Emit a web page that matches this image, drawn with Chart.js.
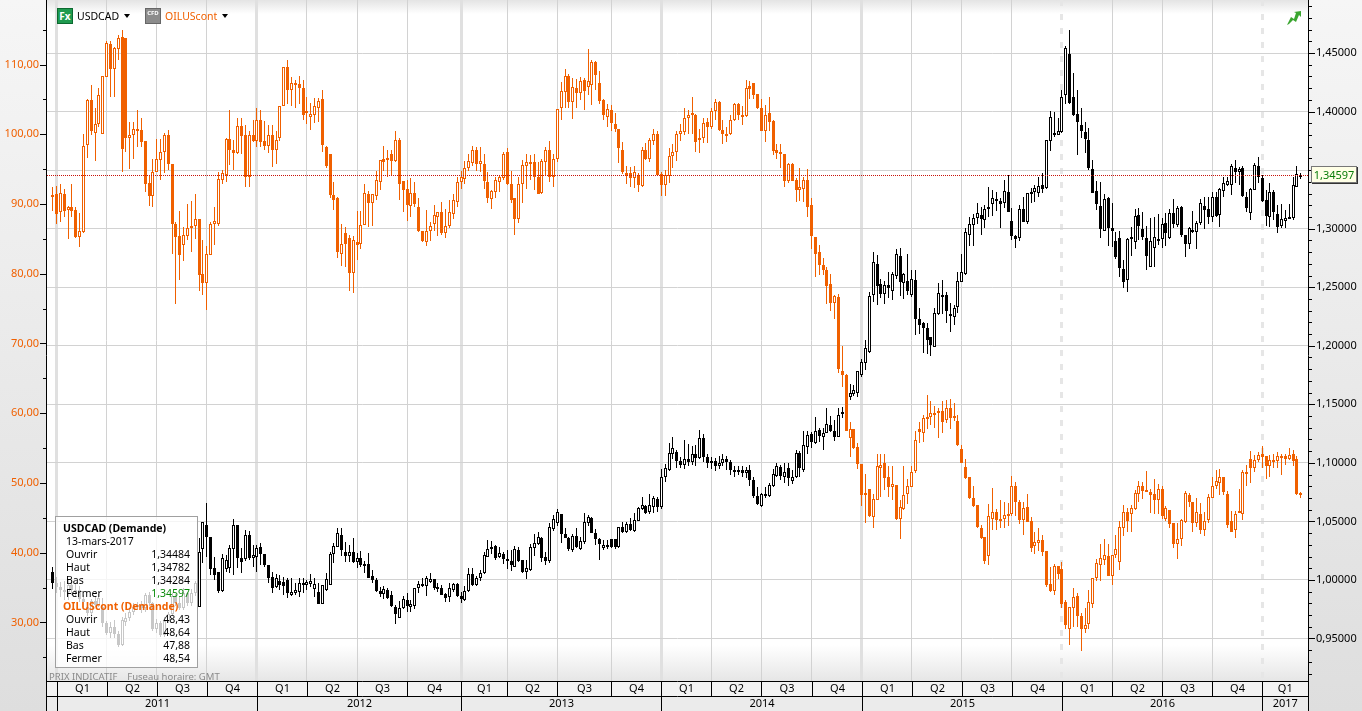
<!DOCTYPE html>
<html>
<head>
<meta charset="utf-8">
<title>USDCAD / OILUScont</title>
<script src="https://cdn.jsdelivr.net/npm/chart.js@4"></script>
<style>
html, body { margin: 0; padding: 0; background: #fff; overflow: hidden; }
#wrap { position: relative; width: 1362px; height: 711px; font: 11px "Noto Sans", sans-serif; color: #000; }
#chart { position: absolute; left: 0; top: 0; }
.abs { position: absolute; white-space: nowrap; line-height: 13px; }
.ico { position: absolute; top: 8px; width: 16px; height: 16px; box-sizing: border-box; color: #fff; text-align: center; font-weight: bold; }
.tri { position: absolute; top: 14px; width: 0; height: 0; border-left: 3px solid transparent; border-right: 3px solid transparent; border-top: 4px solid #000; }
#info { position: absolute; left: 55px; top: 516px; width: 141px; height: 150px; border: 1px solid #a0a0a0; background: rgba(255,255,255,.78); font-size: 10.5px; }
#tag { position: absolute; left: 1311px; top: 166px; width: 44px; height: 15px; line-height: 15px; text-align: center; background: #ffffe6; border: 1px solid #777; box-shadow: 1px 1px 0 #333; color: #0a7d0a; }
</style>
</head>
<body>
<div id="wrap">
  <canvas id="chart" width="1362" height="711"></canvas>
  <div class="ico" style="left:57px;background:#1f9a4f;border:1px solid #0c6a30;font-size:10px;line-height:14px">Fx</div>
  <div class="abs" style="left:77px;top:10px;font-size:10.5px">USDCAD</div>
  <div class="tri" style="left:124px"></div>
  <div class="ico" style="left:145px;background:#8c8c8c;border:1px solid #666;font-size:6px;line-height:9px">CFD</div>
  <div class="abs" style="left:165px;top:10px;color:#f06000;font-size:10.5px">OILUScont</div>
  <div class="tri" style="left:222px"></div>
  <svg class="abs" style="left:1287px;top:11px" width="15" height="15" viewBox="0 0 15 15"><polygon points="0,14 4,6 7,8 9,2 7,1 14,0 14,6 12,4 9,11 6,9 2,13" fill="#3aa52f"/></svg>
  <div class="abs" style="left:49px;top:670px;font-size:9.5px;color:#8a8a8a">PRIX INDICATIF &nbsp;&nbsp;&nbsp;Fuseau horaire: GMT</div>
  <div id="info"></div>
  <div id="tag"></div>
</div>
<script>
var firstWeek = '2010-12-27';
var quarterStarts = ['2011-01-03','2011-04-04','2011-07-04','2011-10-03','2012-01-02','2012-04-02','2012-07-02','2012-10-01',
  '2013-01-07','2013-04-01','2013-07-01','2013-10-07','2014-01-06','2014-04-07','2014-07-07','2014-10-06',
  '2015-01-05','2015-04-06','2015-07-06','2015-10-05','2016-01-04','2016-04-04','2016-07-04','2016-10-03','2017-01-02'];
var quarterLabels = ['Q1','Q2','Q3','Q4','Q1','Q2','Q3','Q4','Q1','Q2','Q3','Q4','Q1','Q2','Q3','Q4','Q1','Q2','Q3','Q4','Q1','Q2','Q3','Q4','Q1'];
var yearLabels = ['2011','2012','2013','2014','2015','2016','2017'];

var oilOpen = [
91.0,91.4,88.9,91.5,89.2,89.5,89.1,85.2,86.0,98.4,
104.9,100.2,101.4,100.1,108.2,113,109.4,112.2,113.9,113.8,
99.4,99.9,100.7,100.6,99,93,91.2,94.6,96.3,97.5,
99.9,95.8,87.2,85.4,84.1,85.4,86.6,86.9,87.9,80,
78.7,82.7,87.2,87.2,93.5,94.2,99.3,97.8,97.3,101.2,
99.9,93.8,99.9,99.1,102,99,98.3,99.9,97.7,99.4,
104,109.6,106.4,107.4,107.2,106.7,103.2,102.5,102.8,103.8,
105,98.2,97.1,91.3,90.9,82.9,85.8,85.1,80.1,84.6,
84.2,87.05,91.5,90.1,91.2,93.2,96.4,96.6,97.2,96.2,
99.2,93.3,92.1,89.7,91.6,89.5,86.1,84.6,86.1,87.1,
88.2,88.8,85.9,86.9,88.6,90.3,93.2,93.6,95.1,95.9,
97.7,95.7,95.8,93.2,90.7,91.7,93.2,93.7,97.4,92.9,
90.9,87.9,92.9,95.4,96,96,93.8,91.6,96,97.8,
93.8,96.5,103.8,106,108.3,104.6,106.7,105.9,107.8,106.8,
107,110.3,107.4,104.9,102.5,103.5,101.5,100.7,97.8,94.5,
94.4,93.7,94.2,92.6,97.7,96.5,99.1,100.1,94.3,92.7,
94,96.9,97.4,100,100.3,102.3,103,102.7,99.5,99.5,
101.7,101,103.4,104.6,100.6,100,100.1,102,104.3,102.8,
102.6,106.9,107.4,105.8,103.7,100.4,103,101.9,97.7,97.5,
97.1,93.3,95.8,93.5,92,92.2,93.4,89.8,85.2,83.1,
81.2,80.6,78.5,75.8,76.6,66,65.5,56.4,57.8,55.1,
52.7,48.2,49.2,45.1,47.6,52.2,52.8,50.8,49.4,49.7,
44.8,46.2,48.4,49.4,51.7,57.7,57.2,59.2,59.4,60.1,
60.3,60.3,59,60.8,59.6,58.9,54.9,52.3,50.8,47.9,
46.8,43.6,42.2,39.5,44.9,45.8,44.9,44.9,45.3,45.5,
49.6,47.3,44.7,46.5,44.5,41,41.4,41.8,40.2,35.5,
34.5,38.1,37.6,32.9,29,32.1,33.8,30.9,29,29.8,
32.7,36.3,38.3,39,39.5,36.6,39.7,38.6,43.6,45.9,
45.5,46.2,48.4,49.6,49,48.7,48.4,47.6,49.2,44.9,
46.1,44.2,41.3,41.9,44.4,48.3,47.2,44.2,45.6,43.2,
44.7,47.9,49.6,50,50.9,48.4,44.5,43.3,45.9,45.6,
51.6,53.5,52.2,53.3,54.2,53.8,52.5,53.2,53.2,53.9,
53.9,53.5,54.1,53.4,48.43];
var oilHigh = [
92.5,92.6,92.8,92.2,89.7,92.8,89.6,88.7,100,105.1,
107,103.8,106.7,108.4,113.3,113.3,112.5,114.2,115,113.8,
101.8,101.8,103.5,102.4,99,94,96.4,99.3,99.3,100.2,
100.6,95.8,87.4,89,86.7,90,90.4,91.5,87.9,84.8,
84,87.4,89.5,94.6,94.9,99.4,103.5,99.2,102.4,102.4,
101.3,100.4,102,103.7,103.5,101.9,101.3,101.3,100.4,104,
109.7,110.6,108.2,107.8,108.3,107.8,105.4,104.5,105.2,105.2,
106.4,98.3,97.1,93.2,91,87.1,86.7,85.5,85.4,89,
89,92.9,91.8,91.5,94.7,96.3,98.3,97.7,97.7,100.5,
99.5,93.3,93.5,93.7,93.1,90.8,86.1,89.2,87.4,89.8,
88.9,90.3,89.3,90.5,91.5,93.9,94.7,96.2,97.1,98.3,
98.1,98.1,97.1,94.6,92,93.9,94.1,97.5,98,94.8,
90.9,93.9,96.3,97.1,97,97.1,96,96.4,98.2,99,
97.1,103.6,107.5,109.3,108.7,108.1,107.9,108.2,108,112.2,
110.7,110.5,109.1,105.1,104.4,104.2,103,100.7,98.9,95.4,
95.3,95.4,94.4,98.1,98.7,99.5,100.7,100.5,94.6,94.9,
98,98.6,100.4,101.5,103.8,103.5,105.3,102.9,100.8,102.4,
102.3,103.7,105,104.8,102.1,101,102.7,104.5,104.5,104,
107.8,107.7,107.4,105.8,105.1,104.2,105.3,102.1,98.6,98.6,
97.1,95.9,95.9,93.7,95.2,93.8,95,90.8,85.2,84.1,
82.2,81,79.9,77,77.1,69.6,65.6,58.8,57.8,55.7,
52.7,51.3,49.2,48.4,54.2,54.2,54.1,52.5,52.4,49.7,
47.5,52.5,50.6,52.5,57.4,58.8,59.7,62.6,61.7,61,
60.8,61.7,61.9,62.1,61.4,59.7,55.4,53.5,50.9,49.5,
46.8,44,42.2,47,49.3,46.3,47.5,47.3,47.1,51,
50.2,47.6,47.2,48.4,45.1,42.9,43.5,42.5,40.2,38,
38.4,38.1,38.6,33.2,32.2,34.9,34.2,31.4,32,34.7,
36.3,39.1,41.2,42,41.3,39.7,42.5,44.6,46.8,46.4,
46.8,49,50.3,50.2,51.7,49.2,50.6,49.9,49.5,46.7,
46.1,44.3,44.3,44.8,48.9,48.6,47.3,47.8,47.1,45.9,
48.4,50.9,51.8,52,50.9,48.8,46,46,49.2,51.9,
52.6,54.6,54,54.4,55.3,53.9,54,54.2,54.4,54.2,
54.2,55,54.7,53.8,48.64];
var oilLow = [
89,87.1,87.4,88.2,85,88.2,85.1,83.8,85.9,96.6,
99.9,96.1,101,100.1,108.2,105.3,105.3,110.6,94.6,97.5,
95,96.4,98.2,98.2,91.7,89.7,89.6,94.6,93.4,94.5,
94.9,82.9,75.6,79.1,81.8,84.9,83.1,85,77.5,77,
74.8,82.7,84.1,86.9,92.9,93.2,95.6,94.9,97.1,97.1,
92.5,92.5,98.9,98.2,98.2,97.7,97.3,95.3,95.8,99,
104,104.4,104,103.8,104.4,102,101.5,100.6,101.6,101.8,
97.5,95.1,90.8,89.1,82.3,81.1,81,77.5,77.3,82,
83.6,87,86.7,86.8,90.5,92,94.8,93.9,94,96,
90.5,88.8,87.6,88.2,89.5,86,84.6,84,84.7,86.1,
85.4,85.6,85.1,86.5,87.9,89.6,92.2,92.8,94.8,95.4,
94.8,94.6,92.2,90.1,89.3,90.9,91.7,93.4,92.7,90.2,
85.5,87.3,90.1,92.1,93.4,92,91.4,91.4,94.1,93.2,
92.5,96,102,103.7,103.8,102.2,103.7,104.9,103.5,105.6,
104.2,106.3,104.4,102,101.1,100.5,100.3,95.9,94.3,92.9,
92.4,92.3,91.7,92.4,96.3,96,98.4,94.1,91.2,91.2,
93,95.2,96.2,99.1,99.9,100.1,100.1,97.5,97.3,98.8,
98.8,100.8,102.1,100.4,98.6,98.9,99.9,101.9,102.1,101.3,
102.5,105,105,103.6,100.4,98.9,100.4,97,96.5,95.2,
92.5,93,93.3,90.3,90.4,90.3,88.2,83.5,79.6,79.8,
79.8,75.7,74.7,73.5,65.7,63.7,57.5,53.7,54.9,52,
46.7,44.2,45.1,43.6,47.5,48,49,48,47.5,44.7,
42,46.1,47,49.4,51.4,55.7,55.9,57.8,58.3,57.9,
56.5,57.2,58.6,57.8,58.9,55.3,52.8,50.6,47.7,46.6,
43.6,42,38.4,38.3,43.2,43.2,43.5,43.6,43.8,45.2,
45.2,44.1,42.5,44.4,40.1,39.8,40.3,39.5,35.1,34.3,
33.9,36.2,32,29,26.7,29.3,29.3,25.9,28.5,29.1,
32.1,35.9,36,38.2,36.6,35.3,39.3,37.5,42.4,43,
43,46.1,47.3,47.7,48.7,45.7,45.6,45.5,44.8,44.5,
43.6,40.6,39.1,41,44.3,46.5,43,43.7,42.7,42.4,
44.2,47.8,49.1,48.3,48.3,43.6,43,42.1,45.8,44.7,
49.6,50,51.5,53,52.1,50.6,50.9,52.2,52.1,51.1,
52.6,53.3,52.4,48.3,47.88];
var oilClose = [
91.3,88.5,91.6,89,89.5,89,85.2,86.1,98.3,104.9,
100.5,101.5,105.6,108.3,113.1,109.4,112.3,113.8,97.9,99.4,
99.9,100.7,100.5,98.9,92.9,91.2,94.6,96.4,97.4,99.9,
95.8,87.1,85.3,82.7,85.5,86.6,86.9,87.9,79.8,78.7,
82.8,87.2,87.5,93.6,94.4,99.3,97.8,97.3,101.2,99.8,
93.8,99.9,99.1,102,98.9,98.3,99.9,97.7,99.2,104,
109.6,106.4,107.4,107.1,106.7,102.7,103.3,102.9,104,104.7,
98.4,95.5,91.3,90.6,83.1,84.3,84.2,80.1,84.9,84.1,
87,91.6,90.2,91.4,93.4,96.3,96,96.4,96.2,99.2,
92.9,92,89.9,91.6,90,86.1,84.7,86.1,86.9,88.4,
88.9,85.9,86.8,88.9,90.6,93.2,93.8,95.2,96.1,97.7,
95.7,96.1,93.3,90.9,91.8,93.4,93.8,97.2,92.9,90.6,
87.9,92.8,95.6,96,95.7,93.8,91.4,96.2,97.8,93.9,
96.5,103.6,106.2,108.4,104.6,106.8,105.9,107.7,106.2,107.7,
110.3,108.5,104.7,102.7,103.6,101.6,100.7,98,94.6,94.2,
93.7,94.6,92.7,97.8,96.4,99.2,100.1,94.2,92.7,94.1,
96.9,97.4,100.1,100.4,102.3,102.7,102.7,98.9,99.3,101.6,
101.1,103.3,104.6,100.6,100,100,102.1,104.4,102.7,102.6,
106.7,106.5,105.6,103.8,100.5,102.8,101.8,97.6,97.3,97.2,
93.3,95.8,93.3,92,92.4,93.4,89.6,85.4,82.8,81.2,
80.6,78.3,75.8,76.8,66.3,65.5,57.5,57.8,55,52.7,
48.2,48.5,45.2,47.7,52.4,52.6,50.7,49.4,49.8,44.8,
46.5,48.3,49.5,51.6,56.1,57.3,59.3,59.5,60,59.8,
60.1,58.8,60.7,59.3,59.3,55.4,52.8,50.7,47.9,46.7,
43.7,42.1,38.8,45.3,45.8,44.7,44.8,45.4,45.6,49.6,
47.2,44.7,46.4,44.4,40.7,41.5,41.8,40.1,35.3,34.5,
38.1,36.9,32.7,29.6,32.2,33.7,30.9,29.1,29.7,32.9,
36.3,38.5,39.3,39.6,36.6,39.6,40.5,43.7,45.9,44.6,
46.4,48.5,49.6,48.8,48.9,48.3,47.6,49.2,45.2,46.4,
44.1,41.2,42,44.7,48.5,47.3,44.2,45.8,43.2,44.5,
48,49.5,50.3,50.9,48.7,44,43,45.6,46,51.6,
51.4,52.1,53.3,54,53.7,52.5,53.3,53.3,53.8,53.9,
53.4,54,53.2,48.4,48.54];

var usdOpen = [
1.0065,.9975,.9943,.9915,.9900,.9955,.9910,.9915,.9840,.9772,
.9715,.9820,.9790,.9772,.9630,.9550,.9600,.9539,.9445,.9644,
.9673,.9730,.9770,.9790,.9760,.9870,.9800,.9580,.9630,.9530,
.9650,.9710,.9860,.9800,.9760,.9890,.9800,.9890,.9772,1.0262,
1.0470,1.0370,1.0100,1.0065,.9909,1.0097,1.0100,1.0262,1.0470,1.0185,
1.0177,1.0384,1.0185,1.0194,1.0279,1.0222,1.0128,1.0023,.9937,.9994,
.9986,1.0000,.9872,.9886,.9895,.9968,.9958,.9963,.9923,.9900,
.9795,.9914,.9957,1.0222,1.0285,1.0384,1.0236,1.0205,1.0242,1.0156,
1.0185,1.0136,1.0136,1.0034,1.0000,.9906,.9877,.9914,.9872,.9772,
.9678,.9758,.9829,.9772,.9780,.9928,.9962,.9951,.9985,1.0008,
.9937,.9928,.9877,.9857,.9914,.9966,.9863,.9829,.9906,1.0048,
.9957,1.0014,1.0057,1.0199,1.0261,1.0290,1.0193,1.0219,1.0176,1.0162,
1.0113,1.0256,1.0170,1.0071,1.0085,1.0270,1.0307,1.0355,1.0193,1.0162,
1.0432,1.0489,1.0560,1.0390,1.0361,1.0256,1.0375,1.0264,1.0327,1.0484,
1.0526,1.0398,1.0347,1.0276,1.0290,1.0347,1.0347,1.0284,1.0449,1.0412,
1.0478,1.0421,1.0506,1.0603,1.0631,1.0580,1.0626,1.0689,1.0620,1.0882,
1.0939,1.1073,1.1096,1.1019,1.0985,1.1035,1.1010,1.1075,1.1040,1.1213,
1.1050,1.1000,1.1020,1.0975,1.1000,1.1035,1.1010,1.0935,1.0920,1.0935,
1.0910,1.0940,1.0850,1.0720,1.0635,1.0720,1.0720,1.0805,1.0891,1.0962,
1.0882,1.0953,1.0848,1.0877,1.1087,1.0939,1.1133,1.1247,1.1170,1.1281,
1.1224,1.1258,1.1324,1.1272,1.1224,1.1415,1.1415,1.1565,1.1591,1.1599,
1.1750,1.1850,1.1949,1.2431,1.2695,1.2524,1.2439,1.2519,1.2470,1.2598,
1.2766,1.2539,1.2553,1.2433,1.2561,1.2228,1.2191,1.2149,1.2072,1.1992,
1.2268,1.2428,1.2433,1.2268,1.2248,1.2334,1.2547,1.2610,1.2946,1.3031,
1.3088,1.3117,1.3074,1.3176,1.3208,1.3246,1.3236,1.3222,1.3310,1.3063,
1.2940,1.2918,1.3165,1.3060,1.3293,1.3316,1.3302,1.3373,1.3350,1.3752,
1.3797,1.3800,1.3828,1.4142,1.4489,1.4122,1.3976,1.3885,1.3823,1.3757,
1.3507,1.3319,1.3194,1.2983,1.3259,1.3003,1.2895,1.2917,1.2653,1.2562,
1.2925,1.2889,1.3117,1.2994,1.2917,1.2670,1.2832,1.2911,1.2909,1.3046,
1.2917,1.3131,1.3031,1.3182,1.2946,1.2866,1.2988,1.2974,1.3046,1.3194,
1.3165,1.3103,1.3268,1.3117,1.3324,1.3376,1.3373,1.3515,1.3487,1.3515,
1.3268,1.3131,1.3330,1.3535,1.3436,1.3245,1.3103,1.3310,1.3122,1.3026,
1.3068,1.3085,1.3094,1.3359,1.34484];
var usdHigh = [
1.0108,1.0028,.9986,.9990,.9997,1.0000,.9975,.9950,.9870,.9800,
.9840,.9860,.9880,.9850,.9650,.9640,.9660,.9560,.9680,.9720,
.9760,.9800,.9810,.9820,.9890,.9900,.9815,.9670,.9650,.9680,
.9730,.9890,.9880,.9860,.9930,.9900,.9920,.9990,1.0356,1.0498,
1.0655,1.0370,1.0200,1.0065,1.0225,1.0214,1.0299,1.0518,1.0470,1.0270,
1.0427,1.0421,1.0299,1.0299,1.0319,1.0222,1.0128,1.0065,1.0048,1.0043,
1.0023,1.0014,1.0014,.9971,1.0014,1.0014,1.0000,1.0051,1.0014,.9972,
.9957,1.0057,1.0240,1.0313,1.0447,1.0441,1.0327,1.0299,1.0355,1.0233,
1.0250,1.0165,1.0227,1.0085,1.0014,.9937,.9948,.9928,.9909,.9786,
.9820,.9863,.9891,.9829,.9934,.9994,1.0014,1.0034,1.0057,1.0008,
.9971,.9957,.9891,.9971,.9977,.9971,.9900,.9948,1.0099,1.0099,
1.0034,1.0085,1.0242,1.0341,1.0336,1.0299,1.0279,1.0242,1.0256,1.0256,
1.0290,1.0284,1.0170,1.0170,1.0307,1.0392,1.0412,1.0370,1.0242,1.0484,
1.0555,1.0603,1.0560,1.0441,1.0370,1.0392,1.0441,1.0370,1.0569,1.0555,
1.0541,1.0435,1.0355,1.0341,1.0341,1.0347,1.0347,1.0455,1.0492,1.0498,
1.0526,1.0569,1.0626,1.0706,1.0640,1.0734,1.0717,1.0706,1.0945,1.0990,
1.1167,1.1218,1.1110,1.1047,1.1196,1.1162,1.1140,1.1154,1.1282,1.1248,
1.1075,1.1050,1.1040,1.1060,1.1075,1.1055,1.1025,1.0975,1.0975,1.0970,
1.0965,1.0985,1.0880,1.0790,1.0740,1.0791,1.0825,1.0948,1.0996,1.0982,
1.0996,1.0996,1.0939,1.1110,1.1104,1.1275,1.1275,1.1267,1.1389,1.1295,
1.1295,1.1472,1.1403,1.1366,1.1466,1.1480,1.1590,1.1670,1.1665,1.1781,
1.1887,1.2049,1.2462,1.2798,1.2775,1.2567,1.2556,1.2627,1.2627,1.2823,
1.2832,1.2624,1.2783,1.2647,1.2647,1.2319,1.2206,1.2191,1.2078,1.2319,
1.2533,1.2561,1.2462,1.2362,1.2348,1.2633,1.2783,1.3003,1.3102,1.3125,
1.3216,1.3188,1.3202,1.3359,1.3330,1.3316,1.3259,1.3416,1.3458,1.3174,
1.2946,1.3202,1.3273,1.3307,1.3344,1.3373,1.3438,1.3472,1.3757,1.4005,
1.3994,1.3942,1.4184,1.4560,1.4697,1.4327,1.4184,1.4028,1.3914,1.3857,
1.3586,1.3407,1.3401,1.3293,1.3273,1.3216,1.2974,1.2983,1.2732,1.2917,
1.3017,1.3165,1.3174,1.3145,1.3023,1.3088,1.3103,1.3122,1.3088,1.3137,
1.3165,1.3253,1.3194,1.3194,1.2946,1.3011,1.3151,1.3066,1.3250,1.3273,
1.3273,1.3310,1.3316,1.3344,1.3438,1.3438,1.3552,1.3586,1.3530,1.3538,
1.3316,1.3344,1.3564,1.3609,1.3458,1.3330,1.3387,1.3330,1.3202,1.3208,
1.3160,1.3208,1.3438,1.3535,1.34782];
var usdLow = [
.9920,.9886,.9858,.9830,.9830,.9875,.9860,.9810,.9770,.9690,
.9690,.9770,.9770,.9600,.9530,.9500,.9500,.9430,.9440,.9610,
.9650,.9700,.9740,.9720,.9730,.9780,.9560,.9550,.9515,.9510,
.9630,.9690,.9780,.9740,.9740,.9780,.9780,.9860,.9767,1.0142,
1.0200,1.0045,1.0000,.9886,.9900,1.0071,1.0057,1.0043,1.0100,1.0057,
1.0165,1.0171,1.0114,1.0071,1.0128,1.0114,.9977,.9892,.9929,.9915,
.9872,.9843,.9866,.9872,.9858,.9886,.9915,.9943,.9858,.9795,
.9795,.9909,.9957,1.0142,1.0285,1.0205,1.0156,1.0156,1.0142,1.0100,
1.0114,1.0062,1.0014,.9977,.9900,.9857,.9837,.9835,.9766,.9624,
.9678,.9749,.9726,.9729,.9752,.9886,.9943,.9866,.9977,.9914,
.9900,.9869,.9815,.9815,.9900,.9857,.9806,.9823,.9900,.9951,
.9951,.9991,1.0051,1.0193,1.0222,1.0170,1.0185,1.0136,1.0091,1.0079,
1.0113,1.0156,1.0057,1.0008,1.0079,1.0205,1.0299,1.0156,1.0128,1.0148,
1.0421,1.0461,1.0318,1.0355,1.0250,1.0242,1.0270,1.0256,1.0307,1.0461,
1.0398,1.0299,1.0170,1.0256,1.0262,1.0270,1.0262,1.0270,1.0404,1.0404,
1.0421,1.0412,1.0503,1.0597,1.0563,1.0563,1.0575,1.0583,1.0603,1.0839,
1.0933,1.1030,1.0959,1.0960,1.0945,1.0970,1.0985,1.0970,1.1030,1.1010,
1.0960,1.0950,1.0930,1.0950,1.0970,1.0940,1.0900,1.0880,1.0895,1.0880,
1.0870,1.0800,1.0700,1.0640,1.0625,1.0703,1.0712,1.0791,1.0882,1.0854,
1.0825,1.0805,1.0817,1.0868,1.0882,1.0925,1.1073,1.1125,1.1161,1.1181,
1.1110,1.1252,1.1267,1.1187,1.1218,1.1380,1.1400,1.1537,1.1571,1.1559,
1.1730,1.1793,1.1935,1.2376,1.2348,1.2405,1.2356,1.2405,1.2391,1.2567,
1.2425,1.2396,1.2433,1.2419,1.2092,1.2097,1.1935,1.1929,1.1912,1.1992,
1.2263,1.2271,1.2197,1.2120,1.2177,1.2282,1.2547,1.2604,1.2855,1.2855,
1.3040,1.2946,1.3003,1.3103,1.3108,1.3154,1.3009,1.3174,1.3145,1.2903,
1.2832,1.2898,1.3054,1.3040,1.3222,1.3231,1.3273,1.3302,1.3339,1.3666,
1.3786,1.3800,1.3814,1.4062,1.4065,1.3962,1.3629,1.3771,1.3649,1.3501,
1.3307,1.3160,1.2917,1.2983,1.2852,1.2846,1.2738,1.2590,1.2496,1.2456,
1.2769,1.2824,1.2903,1.2903,1.2647,1.2670,1.2670,1.2860,1.2832,1.2852,
1.2915,1.3003,1.3017,1.2932,1.2761,1.2824,1.2966,1.2824,1.3031,1.2994,
1.3040,1.3060,1.3103,1.3017,1.3273,1.3364,1.3288,1.3387,1.3373,1.3273,
1.3145,1.3074,1.3330,1.3387,1.3231,1.3023,1.3017,1.3074,1.2960,1.3003,
1.3003,1.3083,1.3074,1.3359,1.34284];
var usdClose = [
.9972,.9943,.9915,.9900,.9955,.9910,.9915,.9840,.9815,.9715,
.9820,.9790,.9845,.9630,.9550,.9600,.9539,.9445,.9660,.9673,
.9730,.9770,.9790,.9760,.9870,.9800,.9580,.9630,.9530,.9650,
.9710,.9860,.9800,.9760,.9890,.9800,.9890,.9970,1.0236,1.0498,
1.0370,1.0091,1.0043,.9909,1.0185,1.0171,1.0270,1.0470,1.0185,1.0157,
1.0384,1.0185,1.0211,1.0270,1.0222,1.0128,1.0014,.9929,1.0014,.9957,
.9949,.9886,.9895,.9914,.9972,.9972,.9986,.9991,.9966,.9795,
.9957,1.0006,1.0222,1.0290,1.0404,1.0256,1.0205,1.0242,1.0151,1.0185,
1.0128,1.0122,1.0020,1.0000,.9906,.9880,.9923,.9843,.9780,.9709,
.9758,.9835,.9780,.9795,.9934,.9965,.9957,1.0014,1.0005,.9928,
.9920,.9872,.9849,.9928,.9966,.9863,.9837,.9909,1.0048,.9957,
1.0014,1.0057,1.0213,1.0261,1.0279,1.0190,1.0227,1.0176,1.0165,1.0128,
1.0261,1.0162,1.0071,1.0099,1.0279,1.0313,1.0370,1.0190,1.0162,1.0449,
1.0518,1.0577,1.0390,1.0361,1.0264,1.0378,1.0279,1.0333,1.0492,1.0535,
1.0404,1.0347,1.0304,1.0301,1.0301,1.0284,1.0284,1.0449,1.0412,1.0478,
1.0427,1.0512,1.0612,1.0637,1.0575,1.0637,1.0697,1.0626,1.0882,1.0959,
1.1081,1.1124,1.1019,1.0982,1.1035,1.1010,1.1075,1.1040,1.1216,1.1050,
1.1000,1.1020,1.0975,1.1000,1.1035,1.1010,1.0935,1.0920,1.0935,1.0910,
1.0940,1.0850,1.0720,1.0650,1.0731,1.0731,1.0811,1.0902,1.0973,1.0891,
1.0925,1.0874,1.0877,1.1082,1.0959,1.1150,1.1238,1.1181,1.1275,1.1232,
1.1252,1.1329,1.1272,1.1224,1.1406,1.1432,1.1560,1.1594,1.1619,1.1781,
1.1858,1.1978,1.2425,1.2718,1.2513,1.2439,1.2519,1.2496,1.2613,1.2781,
1.2547,1.2613,1.2470,1.2567,1.2228,1.2177,1.2154,1.2052,1.2006,1.2277,
1.2448,1.2433,1.2300,1.2257,1.2319,1.2556,1.2627,1.2969,1.3040,1.3088,
1.3131,1.3083,1.3165,1.3182,1.3259,1.3250,1.3208,1.3322,1.3145,1.2940,
1.2909,1.3165,1.3060,1.3302,1.3316,1.3344,1.3367,1.3339,1.3757,1.3956,
1.3814,1.3831,1.4127,1.4540,1.4070,1.3971,1.3914,1.3837,1.3763,1.3515,
1.3307,1.3211,1.2997,1.3251,1.3009,1.2980,1.2755,1.2667,1.2547,1.2909,
1.2932,1.3111,1.3026,1.2926,1.2769,1.2892,1.2932,1.2914,1.3040,1.2960,
1.3131,1.3037,1.3174,1.2946,1.2866,1.3003,1.2991,1.3046,1.3216,1.3160,
1.3103,1.3268,1.3111,1.3336,1.3393,1.3404,1.3535,1.3487,1.3507,1.3282,
1.3179,1.3336,1.3541,1.3438,1.3239,1.3111,1.3310,1.3145,1.3017,1.3080,
1.3088,1.3097,1.3373,1.3464,1.34597];

var ORANGE = '#f06000', BLACK = '#000000';
var FONT = '11px "Noto Sans", sans-serif';

function weekIndex(d) {
    return (Date.parse(d) - Date.parse(firstWeek)) / (7 * 864e5);
}
var quarterWeeks = quarterStarts.map(weekIndex);

function comma(v, n) { return v.toFixed(n).replace('.', ','); }

function wicks(high, low) {
    return high.map(function (h, i) { return { x: i, y: [low[i], h] }; });
}
function bodies(open, close) {
    return open.map(function (o, i) { return { x: i, y: [o, close[i]] }; });
}
function bodyFill(open, close, color) {
    return open.map(function (o, i) { return close[i] >= o ? '#ffffff' : color; });
}
function wickSet(high, low, color, axis, order) {
    return { data: wicks(high, low), backgroundColor: color, yAxisID: axis, order: order, barThickness: 1, borderWidth: 0, inflateAmount: 0, grouped: false };
}
function bodySet(open, close, color, axis, order) {
    return { data: bodies(open, close), backgroundColor: bodyFill(open, close, color), borderColor: color, yAxisID: axis, order: order,
        barThickness: 3, borderWidth: 1, borderSkipped: false, inflateAmount: 0, grouped: false };
}

var frame = {
    id: 'frame',
    beforeDraw: function (chart) {
        var c = chart.ctx, a = chart.chartArea;
        var g = c.createLinearGradient(0, 0, 0, 711);
        g.addColorStop(0, '#f6f6f6');
        g.addColorStop(1, '#dedede');
        c.fillStyle = g;
        c.fillRect(0, 0, 1362, 711);
        c.fillStyle = '#ffffff';
        c.fillRect(a.left, a.top, a.width, a.height);
        g = c.createLinearGradient(0, 0, 0, 14);
        g.addColorStop(0, '#e4e4e4');
        g.addColorStop(1, '#ffffff');
        c.fillStyle = g;
        c.fillRect(a.left, 0, a.width, 14);
        g = c.createLinearGradient(0, a.bottom - 36, 0, a.bottom);
        g.addColorStop(0, '#ffffff');
        g.addColorStop(1, '#e6e6e6');
        c.fillStyle = g;
        c.fillRect(a.left, a.bottom - 36, a.width, 36);
    },
    // keep the candles on whole pixels, as the original is drawn
    beforeDatasetsDraw: function (chart) {
        chart.data.datasets.forEach(function (ds, n) {
            var isBody = ds.barThickness > 1;
            chart.getDatasetMeta(n).data.forEach(function (el) {
                el.x = Math.floor(el.x) + 0.5;
                var top = Math.round(Math.min(el.y, el.base));
                var bot = Math.round(Math.max(el.y, el.base));
                if (isBody && bot - top < 2) bot = top + 2;
                el.y = top;
                el.base = bot;
            });
        });
    },
    afterDraw: function (chart) {
        var c = chart.ctx, a = chart.chartArea, s = chart.scales;
        c.save();
        // dotted line at the last close
        var py = Math.round(s.yUsd.getPixelForValue(usdClose[usdClose.length - 1])) + 0.5;
        c.strokeStyle = '#c8140a';
        c.setLineDash([1, 1]);
        c.beginPath(); c.moveTo(a.left, py); c.lineTo(a.right, py); c.stroke();
        c.setLineDash([]);

        // axis strip
        var r1 = a.bottom + 15;
        c.fillStyle = '#f3f3f3';
        c.fillRect(a.left, a.bottom, a.width, 15);
        c.fillStyle = '#ebebeb';
        c.fillRect(a.left, r1, a.width, 15);
        c.strokeStyle = '#000';
        c.lineWidth = 1;
        c.beginPath();
        c.moveTo(a.left, a.bottom + 0.5); c.lineTo(a.right, a.bottom + 0.5);
        c.moveTo(a.left, r1 + 0.5); c.lineTo(a.right, r1 + 0.5);
        var xs = quarterWeeks.map(function (w) { return Math.round(s.x.getPixelForValue(w)) + 0.5; });
        xs.forEach(function (x, i) {
            c.moveTo(x, a.bottom); c.lineTo(x, r1);
            if (i % 4 === 0) { c.moveTo(x, r1); c.lineTo(x, 711); }
        });
        c.moveTo(a.left - 0.5, 0); c.lineTo(a.left - 0.5, 711);
        c.moveTo(a.right + 0.5, 0); c.lineTo(a.right + 0.5, 711);
        // tick marks: the long ones carry a label
        s.yOil.ticks.forEach(function (t) {
            var y = Math.round(s.yOil.getPixelForValue(t.value)) + 0.5;
            c.moveTo(a.left - (t.value % 10 === 0 ? 7 : 4), y); c.lineTo(a.left, y);
        });
        s.yUsd.ticks.forEach(function (t) {
            var y = Math.round(s.yUsd.getPixelForValue(t.value)) + 0.5;
            c.moveTo(a.right, y); c.lineTo(a.right + (Math.round(t.value * 100) % 5 === 0 ? 7 : 4), y);
        });
        c.stroke();

        c.fillStyle = '#000';
        c.font = FONT;
        c.textAlign = 'center';
        c.textBaseline = 'middle';
        quarterLabels.forEach(function (q, i) {
            var next = i + 1 < xs.length ? xs[i + 1] : a.right;
            c.fillText(q, (xs[i] + next) / 2, a.bottom + 8);
        });
        yearLabels.forEach(function (y, i) {
            var x0 = xs[i * 4], x1 = i * 4 + 4 < xs.length ? xs[i * 4 + 4] : a.right;
            c.fillText(y, (x0 + x1) / 2, r1 + 8);
        });
        c.restore();
    }
};

// the tick labels must not push the plot down from the top edge
function noPadding(s) { s.paddingTop = 0; s.paddingBottom = 0; s.paddingLeft = 0; s.paddingRight = 0; }

new Chart(document.getElementById('chart').getContext('2d'), {
    type: 'bar',
    data: {
        datasets: [
            wickSet(usdHigh, usdLow, BLACK, 'yUsd', 4),
            bodySet(usdOpen, usdClose, BLACK, 'yUsd', 3),
            wickSet(oilHigh, oilLow, ORANGE, 'yOil', 2),
            bodySet(oilOpen, oilClose, ORANGE, 'yOil', 1)
        ]
    },
    plugins: [frame],
    options: {
        responsive: false,
        devicePixelRatio: 1,
        animation: false,
        events: [],
        layout: { padding: 0, autoPadding: false },
        plugins: { legend: { display: false }, tooltip: { enabled: false } },
        scales: {
            x: {
                type: 'linear',
                offset: false,
                min: -1.48,
                max: 325.88,
                afterBuildTicks: function (s) { s.ticks = quarterWeeks.map(function (w) { return { value: w }; }); },
                afterFit: function (s) { s.height = 30; noPadding(s); },
                ticks: { display: false, autoSkip: false },
                border: {
                    display: false,
                    dash: function (ctx) { return ctx.index >= 20 && ctx.index % 4 === 0 ? [6, 8] : []; }
                },
                grid: {
                    offset: false,
                    drawTicks: false,
                    color: function (ctx) {
                        if (ctx.index >= 20 && ctx.index % 4 === 0) return '#e6e6e6';
                        return ctx.index % 4 === 0 ? '#e0e0e0' : '#d2d2d2';
                    },
                    lineWidth: function (ctx) { return ctx.index % 4 === 0 ? 3 : 1; }
                }
            },
            yOil: {
                position: 'left',
                min: 21.6,
                max: 119.25,
                afterFit: function (s) { s.width = 47; noPadding(s); },
                border: { display: false },
                grid: { drawOnChartArea: false, drawTicks: false },
                ticks: {
                    stepSize: 5,
                    autoSkip: false,
                    includeBounds: false,
                    padding: 8,
                    color: ORANGE,
                    font: { family: '"Noto Sans", sans-serif', size: 11 },
                    callback: function (v) { return v % 10 === 0 ? comma(v, 2) : ''; }
                }
            },
            yUsd: {
                position: 'right',
                min: 0.9137,
                max: 1.4953,
                afterFit: function (s) { s.width = 54; noPadding(s); },
                border: { display: false },
                grid: {
                    drawTicks: false,
                    color: function (ctx) { return ctx.tick && Math.round(ctx.tick.value * 100) % 5 === 0 ? '#d2d2d2' : 'transparent'; }
                },
                ticks: {
                    stepSize: 0.01,
                    autoSkip: false,
                    includeBounds: false,
                    padding: 8,
                    color: '#000',
                    font: { family: '"Noto Sans", sans-serif', size: 11 },
                    // 1,35000 sits under the last price tag, so it gets no label
                    callback: function (v) {
                        var n = Math.round(v * 100);
                        return n % 5 === 0 && n !== 135 ? comma(v, 5) : '';
                    }
                }
            }
        }
    }
});

// information box, filled from the last candle of each series
var last = usdOpen.length - 1;
var infoRows = [
    ['USDCAD (Demande)', '', 'head', BLACK],
    ['13-mars-2017', '', 'date'],
    ['Ouvrir', comma(usdOpen[last], 5)],
    ['Haut', comma(usdHigh[last], 5)],
    ['Bas', comma(usdLow[last], 5)],
    ['Fermer', comma(usdClose[last], 5), 'green'],
    ['OILUScont (Demande)', '', 'head', ORANGE],
    ['Ouvrir', comma(oilOpen[last], 2)],
    ['Haut', comma(oilHigh[last], 2)],
    ['Bas', comma(oilLow[last], 2)],
    ['Fermer', comma(oilClose[last], 2)]
];
var info = document.getElementById('info');
infoRows.forEach(function (r, i) {
    var top = 5 + i * 13;
    var a = document.createElement('div');
    a.className = 'abs';
    a.textContent = r[0];
    a.style.top = top + 'px';
    a.style.left = r[2] === 'head' ? '7px' : '10px';
    if (r[2] === 'head') { a.style.fontWeight = 'bold'; a.style.color = r[3]; }
    info.appendChild(a);
    if (r[1]) {
        var b = document.createElement('div');
        b.className = 'abs';
        b.textContent = r[1];
        b.style.top = top + 'px';
        b.style.right = '7px';
        if (r[2] === 'green') b.style.color = '#0a8a0a';
        info.appendChild(b);
    }
});
document.getElementById('tag').textContent = comma(usdClose[last], 5);
</script>
</body>
</html>
